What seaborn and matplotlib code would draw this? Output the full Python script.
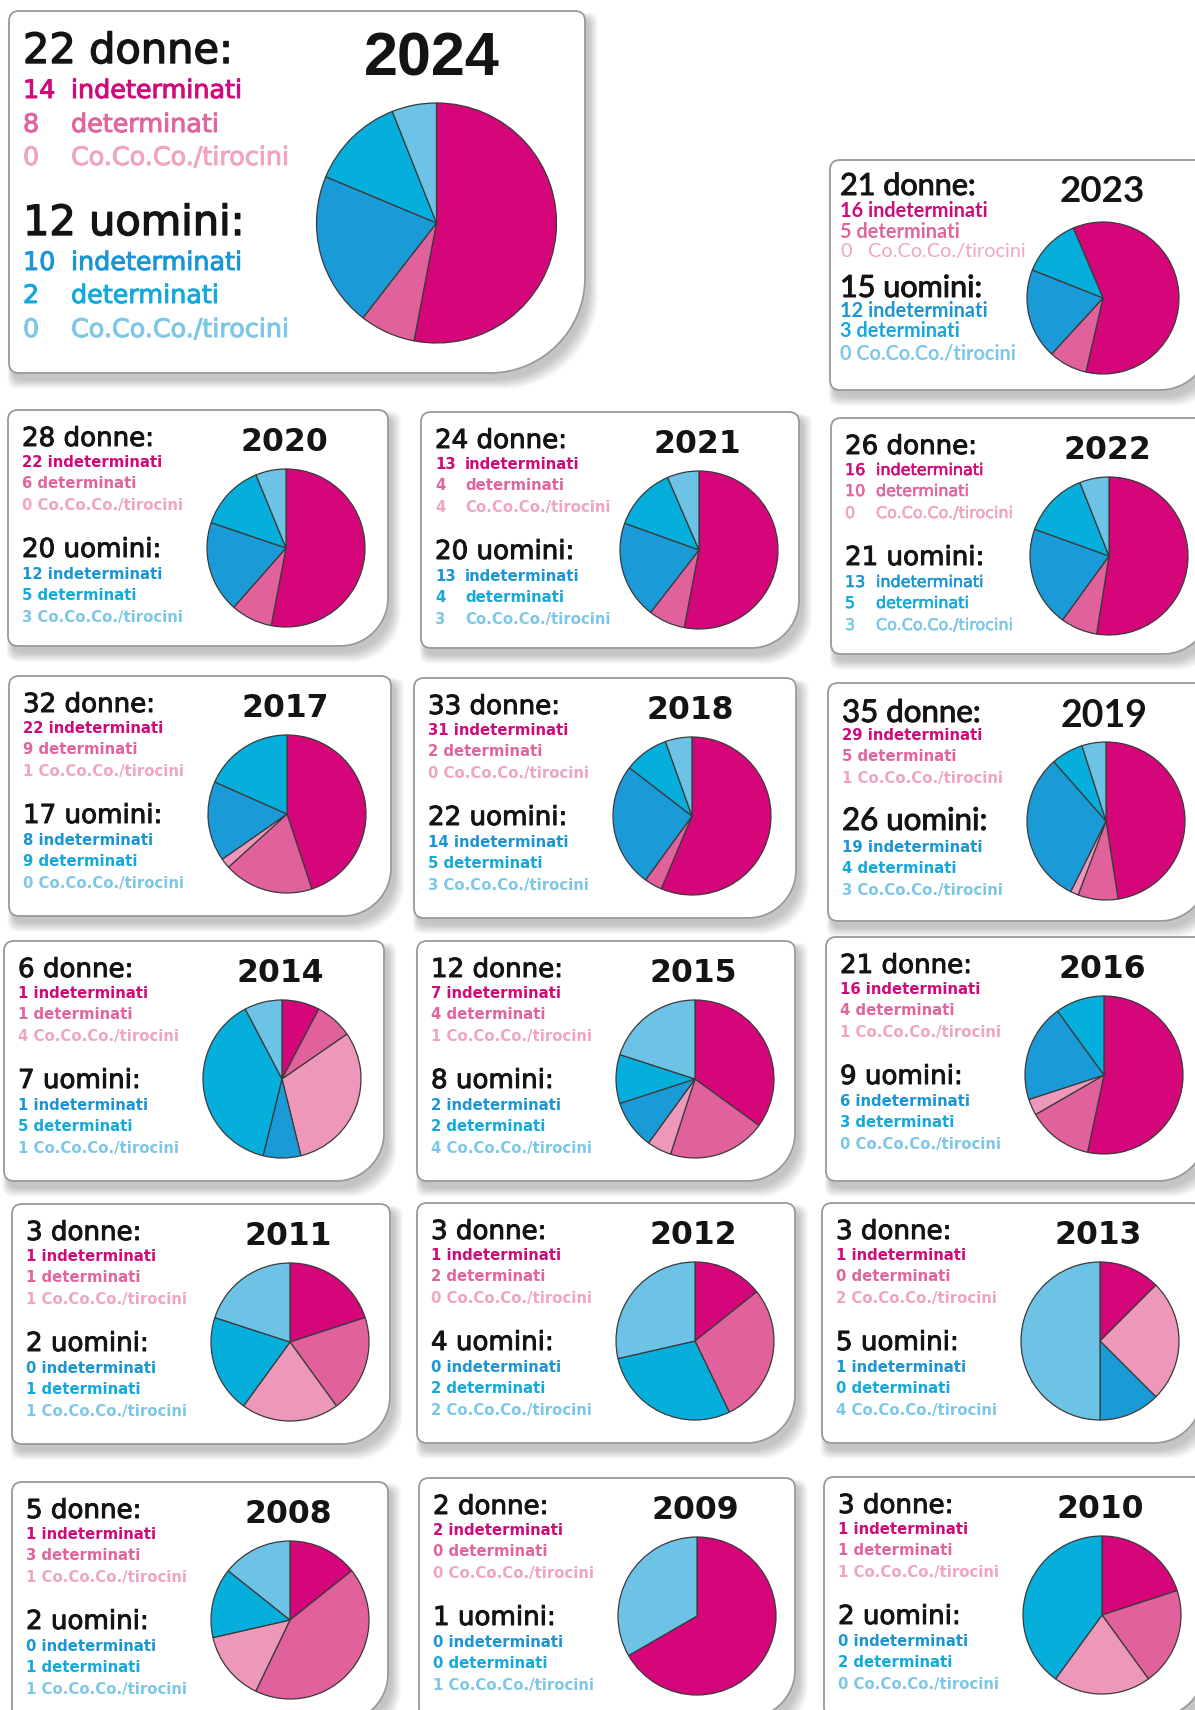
import numpy as np
import matplotlib
matplotlib.use("Agg")
import matplotlib.pyplot as plt
from matplotlib.path import Path
from matplotlib.patches import PathPatch
import matplotlib.patheffects as pe
import seaborn as sns

sns.set_theme(style="white")
plt.rcParams['font.family'] = ['DejaVu Sans']

# ---------------- data ----------------
years = [2024, 2023, 2020, 2021, 2022, 2017, 2018, 2019,
         2014, 2015, 2016, 2011, 2012, 2013, 2008, 2009, 2010]
donne = [22, 21, 28, 24, 26, 32, 33, 35, 6, 12, 21, 3, 3, 3, 5, 2, 3]
uomini = [12, 15, 20, 20, 21, 17, 22, 26, 7, 8, 9, 2, 4, 5, 2, 1, 2]
w_ind = [14, 16, 22, 13, 16, 22, 31, 29, 1, 7, 16, 1, 1, 1, 1, 2, 1]
w_det = [8, 5, 6, 4, 10, 9, 2, 5, 1, 4, 4, 1, 2, 0, 3, 0, 1]
w_coco = [0, 0, 0, 4, 0, 1, 0, 1, 4, 1, 1, 1, 0, 2, 1, 0, 1]
m_ind = [10, 12, 12, 13, 13, 8, 14, 19, 1, 2, 6, 0, 0, 1, 0, 0, 0]
m_det = [2, 3, 5, 4, 5, 9, 5, 4, 5, 2, 3, 1, 2, 0, 1, 0, 2]
m_coco = [0, 0, 3, 3, 3, 0, 3, 3, 1, 4, 0, 1, 2, 4, 1, 1, 0]

categories = ["indeterminati", "determinati", "Co.Co.Co./tirocini"]

# pie slices as drawn in the picture (order: W ind, W det, W coco, M ind, M det, M coco)
pie_2024 = [53.0, 7.5, 0, 20.8, 12.7, 6.0]
pie_2023 = [60.0, 8.2, 0, 19.2, 12.6, 0]
pie_2020 = [53.0, 8.5, 0, 18.7, 13.6, 6.2]
pie_2021 = [53.0, 7.5, 0, 20.0, 13.0, 6.5]
pie_2022 = [52.5, 7.5, 0, 20.5, 13.5, 6.0]
pie_2017 = [22, 9, 1, 8, 9, 0]
pie_2018 = [31, 2, 0, 14, 5, 3]
pie_2019 = [29, 5, 1, 19, 4, 3]
pie_2014 = [1, 1, 4, 1, 5, 1]
pie_2015 = [7, 4, 1, 2, 2, 4]
pie_2016 = [16, 4, 1, 6, 3, 0]
pie_2011 = [1, 1, 1, 0, 1, 1]
pie_2012 = [1, 2, 0, 0, 2, 2]
pie_2013 = [1, 0, 2, 1, 0, 4]
pie_2008 = [1, 3, 1, 0, 1, 1]
pie_2009 = [2, 0, 0, 0, 0, 1]
pie_2010 = [1, 1, 1, 0, 2, 0]
pies = [pie_2024, pie_2023, pie_2020, pie_2021, pie_2022, pie_2017, pie_2018,
        pie_2019, pie_2014, pie_2015, pie_2016, pie_2011, pie_2012, pie_2013,
        pie_2008, pie_2009, pie_2010]

# ---------------- style ----------------
W, H = 1195, 1710
pie_pal = sns.color_palette(["#D5067A", "#E0619B", "#ED97BA",
                             "#1A9BD7", "#06AEDC", "#6CC3E6"])
w_txt = ["#CF0A7A", "#E0659E", "#EFA4C4"]
m_txt = ["#1B95D3", "#14A9D9", "#7CC7E8"]
title_col = "#141414"

# panel geometry: x0, y0, w, h, big corner radius
geom = [(9, 11, 576, 362, 95), (830, 160, 380, 230, 50),
        (8, 410, 380, 236, 48), (421, 412, 378, 236, 48), (831, 418, 380, 236, 48),
        (9, 676, 382, 240, 48), (414, 678, 382, 240, 48), (828, 683, 380, 238, 48),
        (4, 941, 380, 240, 48), (417, 941, 378, 240, 48), (826, 937, 380, 244, 48),
        (12, 1204, 378, 240, 48), (417, 1203, 378, 240, 48), (822, 1203, 380, 240, 48),
        (12, 1482, 376, 240, 48), (419, 1478, 376, 240, 48), (824, 1477, 380, 240, 48)]

std = dict(title_x=14, title_y=36, title_fs=18.8, title_family='DejaVu Sans',
           year_x=320, year_y=41, year_fs=22.7, year_family='DejaVu Sans',
           w_ys=[57, 78, 100], u_y=147, m_ys=[169, 190, 212],
           line_fs=10.7, line_family='DejaVu Sans', line_weight='bold', line_stroke=0.0,
           label_dx=None, pie_c=(278, 138), pie_r=79, start=90)

layouts = []
for yr in years:
    L = dict(std)
    if yr == 2024:
        L.update(title_y=52, title_fs=29.9, year_x=491, year_y=64, year_fs=44,
                 year_family='Liberation Sans', w_ys=[87, 121, 154], u_y=224,
                 m_ys=[259, 292, 326], line_fs=18.3, line_weight='normal',
                 line_stroke=0.7, label_dx=[48] * 6, pie_c=(427.5, 212), pie_r=120)
    elif yr == 2023:
        L.update(title_x=10, title_y=35, title_fs=22, title_family='Lato',
                 year_x=315, year_y=42, year_fs=26.5, year_family='Lato',
                 w_ys=[57, 78, 97], u_y=137, m_ys=[157, 177, 200],
                 line_fs=14.3, line_family='Lato',
                 label_dx=[None, None, 28, None, None, None],
                 pie_c=(273, 138), pie_r=76, start=113)
    elif yr == 2019:
        L.update(title_family='Lato', title_fs=22.5, year_family='Lato', year_fs=27,
                 title_y=39, year_y=44)
    elif yr == 2021:
        L.update(label_dx=[30] * 6)
    elif yr == 2022:
        L.update(label_dx=[31] * 6, line_weight='normal', line_fs=11.5, line_stroke=0.4)
    layouts.append(L)

# ---------------- drawing ----------------
fig = plt.figure(figsize=(W / 100, H / 100), dpi=100)
fig.patch.set_facecolor("white")
bg = fig.add_axes([0, 0, 1, 1])
bg.set_xlim(0, W)
bg.set_ylim(H, 0)
bg.axis("off")


def panel_path(x0, y0, w, h, r, R):
    x1, y1 = x0 + w, y0 + h
    k = 0.55
    verts = [(x0 + r, y0), (x1 - r, y0), (x1, y0), (x1, y0 + r),
             (x1, y1 - R), (x1, y1 - R + k * R), (x1 - R + k * R, y1), (x1 - R, y1),
             (x0 + r, y1), (x0, y1), (x0, y1 - r),
             (x0, y0 + r), (x0, y0), (x0 + r, y0), (x0 + r, y0)]
    codes = [Path.MOVETO, Path.LINETO, Path.CURVE3, Path.CURVE3,
             Path.LINETO, Path.CURVE4, Path.CURVE4, Path.CURVE4,
             Path.LINETO, Path.CURVE3, Path.CURVE3,
             Path.LINETO, Path.CURVE3, Path.CURVE3, Path.CLOSEPOLY]
    return Path(verts, codes)


def stroke(col, lw):
    if lw <= 0:
        return None
    return [pe.withStroke(linewidth=lw, foreground=col)]


for i, yr in enumerate(years):
    x0, y0, w, h, R = geom[i]
    L = layouts[i]
    # soft shadow
    for k in range(10):
        sp = panel_path(x0 + 4 - k * 0.6, y0 + 7 - k * 0.6, w + k * 1.6, h + k * 1.6, 10, R)
        bg.add_patch(PathPatch(sp, facecolor="black", edgecolor="none", alpha=0.024, zorder=1))
    bg.add_patch(PathPatch(panel_path(x0, y0, w, h, 10, R), facecolor="white",
                           edgecolor="#9a9a9a", linewidth=1.3, zorder=2))

    # titles
    tlw = 1.0 if yr == 2024 else 0.7
    bg.text(x0 + L['title_x'], y0 + L['title_y'], f"{donne[i]} donne:",
            fontsize=L['title_fs'], family=L['title_family'], color=title_col,
            va='baseline', ha='left', zorder=3, path_effects=stroke(title_col, tlw))
    bg.text(x0 + L['title_x'], y0 + L['u_y'], f"{uomini[i]} uomini:",
            fontsize=L['title_fs'], family=L['title_family'], color=title_col,
            va='baseline', ha='left', zorder=3, path_effects=stroke(title_col, tlw))
    bg.text(x0 + L['year_x'], y0 + L['year_y'], str(yr), fontsize=L['year_fs'],
            family=L['year_family'], weight='bold', color=title_col,
            va='baseline', ha='right', zorder=3)

    counts = [w_ind[i], w_det[i], w_coco[i], m_ind[i], m_det[i], m_coco[i]]
    ys = L['w_ys'] + L['m_ys']
    cols = w_txt + m_txt
    for j in range(6):
        weight = L['line_weight']
        if yr == 2023 and j == 2:
            weight = 'normal'
        dx = L['label_dx'][j] if L['label_dx'] is not None else None
        lab = categories[j % 3]
        peff = stroke(cols[j], L['line_stroke'])
        if dx is None:
            bg.text(x0 + L['title_x'], y0 + ys[j], f"{counts[j]} {lab}",
                    fontsize=L['line_fs'], family=L['line_family'], weight=weight,
                    color=cols[j], va='baseline', ha='left', zorder=3, path_effects=peff)
        else:
            bg.text(x0 + L['title_x'], y0 + ys[j], f"{counts[j]}",
                    fontsize=L['line_fs'], family=L['line_family'], weight=weight,
                    color=cols[j], va='baseline', ha='left', zorder=3, path_effects=peff)
            bg.text(x0 + L['title_x'] + dx, y0 + ys[j], lab,
                    fontsize=L['line_fs'], family=L['line_family'], weight=weight,
                    color=cols[j], va='baseline', ha='left', zorder=3, path_effects=peff)

    # pie
    cx, cy = x0 + L['pie_c'][0], y0 + L['pie_c'][1]
    r = L['pie_r'] + 1
    pax = fig.add_axes([(cx - r) / W, 1 - (cy + r) / H, 2 * r / W, 2 * r / H])
    v = np.array(pies[i], dtype=float)
    mask = v > 0
    pax.pie(v[mask], colors=[pie_pal[j] for j in range(6) if mask[j]],
            startangle=L['start'], counterclock=False, radius=1,
            wedgeprops=dict(edgecolor="#3a3a3a", linewidth=0.9))
    lim = r / L['pie_r']
    pax.set_xlim(-lim, lim)
    pax.set_ylim(-lim, lim)
    pax.set_aspect('equal')
    pax.axis('off')

fig.savefig("out.png", dpi=100, facecolor="white")
